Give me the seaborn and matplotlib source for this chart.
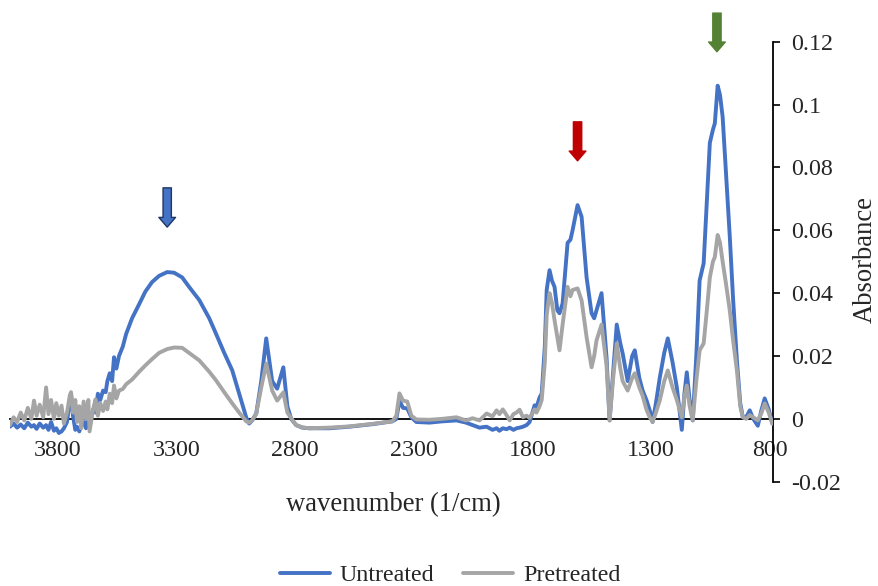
import pandas as pd
import seaborn as sns
import matplotlib.pyplot as plt

# FTIR spectra
wavenumber = [4000, 3985, 3970, 3955, 3940, 3925, 3910, 3899, 3888, 3875,
              3860, 3848, 3838, 3827, 3815, 3805, 3794, 3783, 3773, 3760,
              3748, 3743, 3735, 3725, 3718, 3708, 3700, 3690, 3680, 3670,
              3665, 3650, 3640, 3630, 3620, 3608, 3597, 3590, 3580, 3570,
              3562, 3552, 3541, 3525, 3511, 3486, 3456, 3430, 3402, 3372,
              3338, 3309, 3275, 3246, 3203, 3161, 3132, 3098, 3064, 3035,
              3005, 2993, 2980, 2963, 2942, 2921, 2896, 2875, 2849, 2832,
              2816, 2795, 2769, 2740, 2655, 2571, 2474, 2390, 2373, 2360,
              2345, 2327, 2310, 2289, 2234, 2180, 2120, 2080, 2052, 2023,
              1993, 1968, 1951, 1939, 1925, 1909, 1896, 1880, 1867, 1854,
              1840, 1825, 1812, 1791, 1783, 1770, 1761, 1748, 1740, 1728,
              1718, 1707, 1695, 1686, 1673, 1652, 1640, 1631, 1610, 1593,
              1572, 1551, 1540, 1530, 1509, 1488, 1475, 1460, 1445, 1430,
              1420, 1399, 1380, 1369, 1350, 1336, 1320, 1306, 1294, 1280,
              1264, 1245, 1230, 1210, 1192, 1171, 1160, 1150, 1138, 1125,
              1110, 1096, 1079, 1065, 1053, 1040, 1032, 1020, 1010, 999,
              985, 969, 955, 939, 925, 914, 900, 885, 870, 851,
              835, 822, 805, 790]

untreated = [-0.0025, -0.0015, -0.0028, -0.0018, -0.0030, -0.0012, -0.0025, -0.0020, -0.0032, -0.0015,
             -0.0028, -0.0020, -0.0035, -0.0010, -0.0038, -0.0030, -0.0045, -0.0040, -0.0030, -0.0010,
             0.0060, 0.0080, 0.0010, -0.0035, -0.0025, -0.0040, -0.0020, -0.0010, -0.0030, 0.0010,
             -0.0015, 0.0030, 0.0020, 0.0080, 0.0060, 0.0090, 0.0085, 0.0120, 0.0145, 0.0120,
             0.0196, 0.0160, 0.0200, 0.0230, 0.0270, 0.0320, 0.0365, 0.0405, 0.0435, 0.0455,
             0.0467, 0.0465, 0.0450, 0.0420, 0.0378, 0.0320, 0.0270, 0.0210, 0.0154, 0.0080,
             0.0004, -0.0015, -0.0005, 0.0017, 0.0120, 0.0256, 0.0120, 0.0096, 0.0164, 0.0040,
             0.0000, -0.0020, -0.0028, -0.0030, -0.0030, -0.0025, -0.0017, -0.0008, 0.0000, 0.0058,
             0.0035, 0.0033, 0.0005, -0.0010, -0.0012, -0.0008, -0.0005, -0.0012, -0.0020, -0.0028,
             -0.0025, -0.0035, -0.0030, -0.0038, -0.0030, -0.0033, -0.0028, -0.0035, -0.0030, -0.0028,
             -0.0025, -0.0020, -0.0010, 0.0043, 0.0036, 0.0068, 0.0080, 0.0228, 0.0410, 0.0473,
             0.0440, 0.0420, 0.0345, 0.0336, 0.0367, 0.0560, 0.0570, 0.0600, 0.0680, 0.0643,
             0.0450, 0.0336, 0.0320, 0.0345, 0.0400, 0.0196, -0.0005, 0.0150, 0.0300, 0.0240,
             0.0208, 0.0120, 0.0200, 0.0218, 0.0130, 0.0090, 0.0060, 0.0027, -0.0010, 0.0050,
             0.0130, 0.0210, 0.0256, 0.0180, 0.0100, -0.0035, 0.0080, 0.0148, 0.0060, -0.0005,
             0.0200, 0.0440, 0.0495, 0.0700, 0.0878, 0.0920, 0.0940, 0.1060, 0.1030, 0.0960,
             0.0780, 0.0580, 0.0380, 0.0186, 0.0050, 0.0005, 0.0005, 0.0027, 0.0000, -0.0022,
             0.0030, 0.0065, 0.0030, -0.0015]

pretreated = [-0.0020, 0.0005, -0.0010, 0.0020, -0.0005, 0.0035, 0.0000, 0.0058, 0.0010, 0.0045,
              0.0005, 0.0100, 0.0015, 0.0060, 0.0000, 0.0050, 0.0010, 0.0042, -0.0015, 0.0020,
              0.0075, 0.0085, 0.0020, 0.0060, -0.0010, 0.0040, -0.0030, 0.0055, 0.0000, 0.0060,
              -0.0040, 0.0030, 0.0062, 0.0010, 0.0050, 0.0025, 0.0055, 0.0030, 0.0080, 0.0050,
              0.0106, 0.0065, 0.0090, 0.0095, 0.0110, 0.0125, 0.0150, 0.0170, 0.0190, 0.0210,
              0.0222, 0.0227, 0.0226, 0.0210, 0.0186, 0.0150, 0.0122, 0.0085, 0.0049, 0.0020,
              -0.0008, -0.0012, -0.0005, 0.0017, 0.0100, 0.0176, 0.0090, 0.0058, 0.0084, 0.0020,
              0.0002, -0.0020, -0.0027, -0.0030, -0.0028, -0.0024, -0.0016, -0.0008, 0.0010, 0.0081,
              0.0058, 0.0055, 0.0010, -0.0002, -0.0003, 0.0000, 0.0005, -0.0005, 0.0002, -0.0005,
              0.0017, 0.0008, 0.0027, 0.0015, 0.0030, 0.0012, -0.0005, 0.0015, 0.0020, 0.0029,
              0.0005, 0.0010, 0.0003, 0.0030, 0.0020, 0.0040, 0.0060, 0.0180, 0.0330, 0.0400,
              0.0370, 0.0314, 0.0260, 0.0218, 0.0300, 0.0420, 0.0390, 0.0410, 0.0415, 0.0377,
              0.0260, 0.0164, 0.0200, 0.0250, 0.0300, 0.0170, -0.0005, 0.0130, 0.0240, 0.0160,
              0.0120, 0.0090, 0.0130, 0.0145, 0.0100, 0.0073, 0.0030, 0.0005, -0.0010, 0.0020,
              0.0058, 0.0120, 0.0154, 0.0100, 0.0060, 0.0005, 0.0070, 0.0106, 0.0040, -0.0005,
              0.0120, 0.0218, 0.0240, 0.0350, 0.0450, 0.0500, 0.0515, 0.0585, 0.0560, 0.0500,
              0.0430, 0.0345, 0.0250, 0.0154, 0.0040, 0.0005, 0.0000, 0.0012, 0.0005, -0.0005,
              0.0020, 0.0049, 0.0020, -0.0015]

series_names = ["Untreated", "Pretreated"]
series_colors = ["#4472C4", "#A5A5A5"]
xtick_values = [3800, 3300, 2800, 2300, 1800, 1300, 800]

df = pd.concat([
    pd.DataFrame({"wavenumber": wavenumber, "absorbance": untreated, "sample": "Untreated"}),
    pd.DataFrame({"wavenumber": wavenumber, "absorbance": pretreated, "sample": "Pretreated"}),
])

sns.set_style("white")
plt.rcParams['font.family'] = ['Liberation Serif', 'DejaVu Serif']
fs = 17.3        # ticks / legend
fs_title = 19.2  # axis titles

fig = plt.figure(figsize=(8.79, 5.86), dpi=100)
ax = fig.add_axes([10 / 879, 1 - 481.7 / 586, 763 / 879, 440 / 586])

sns.lineplot(data=df, x="wavenumber", y="absorbance", hue="sample",
             hue_order=series_names, palette=series_colors, estimator=None,
             linewidth=2.8, ax=ax, zorder=3)

ax.set_xlim(4000, 787)
ax.set_ylim(-0.02, 0.12)
ax.set_xticks(xtick_values)
ax.set_xticklabels([str(v) for v in xtick_values])
ax.set_yticks([-0.02, 0, 0.02, 0.04, 0.06, 0.08, 0.1, 0.12])
ax.set_yticklabels(["-0.02", "0", "0.02", "0.04", "0.06", "0.08", "0.1", "0.12"])

# axes look like the Excel chart: zero line + value axis on the right
ax.spines['top'].set_visible(False)
ax.spines['left'].set_visible(False)
ax.spines['bottom'].set_position(('data', 0))
ax.spines['bottom'].set_color('black')
ax.spines['bottom'].set_linewidth(1.3)
ax.spines['bottom'].set_zorder(1)
ax.spines['right'].set_color('black')
ax.spines['right'].set_linewidth(1.3)
ax.yaxis.tick_right()
ax.yaxis.set_label_position('right')
ax.tick_params(axis='x', length=0, pad=15, labelsize=fs)
ax.tick_params(axis='y', which='both', direction='out', length=5, width=1.2,
               color='black', pad=8, labelsize=fs, left=False, right=True)

ax.set_xlabel("wavenumber (1/cm)", fontsize=fs_title)
ax.xaxis.set_label_coords(0.502, -0.024)
ax.set_ylabel("Absorbance", fontsize=fs_title)
ax.yaxis.set_label_coords(1.104, 0.504)

# marker arrows
arrows = [
    (3338, 0.0735, 0.0610, "#4472C4", "#203864"),
    (1610, 0.0945, 0.0821, "#C00000", "#C00000"),
    (1023, 0.1291, 0.1168, "#548235", "#548235"),
]
for x, y0, y1, fc, ec in arrows:
    ax.annotate("", xy=(x, y1), xytext=(x, y0), annotation_clip=False,
                arrowprops=dict(arrowstyle="simple,head_length=7,head_width=12,tail_width=6",
                                mutation_scale=1, fc=fc, ec=ec, lw=1,
                                shrinkA=0, shrinkB=0))

handles, labels = ax.get_legend_handles_labels()
ax.legend(handles, labels, loc='center', bbox_to_anchor=(450 / 879, 1 - 575 / 586),
          bbox_transform=fig.transFigure, ncol=2, frameon=False, fontsize=fs,
          handlelength=2.1, handletextpad=0.4, columnspacing=1.2)

fig.savefig("out.png", dpi=100)
